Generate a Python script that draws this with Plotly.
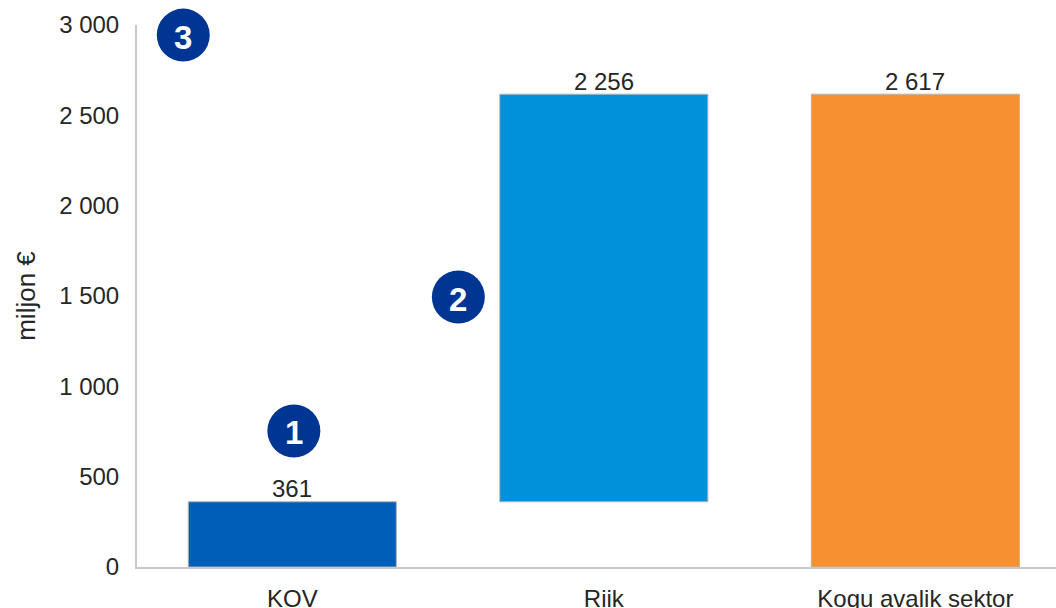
import plotly.graph_objects as go

categories = ["KOV", "Riik", "Kogu avalik sektor"]
category_pos = [0, 1, 2]
bar_values = [361, 2256, 2617]
bar_bases = [0, 361, 0]
bar_labels = ["361", "2 256", "2 617"]
bar_colors = ["#005EB8", "#0091DA", "#F79030"]
y_ticks = [0, 500, 1000, 1500, 2000, 2500, 3000]
y_tick_labels = ["0", "500", "1 000", "1 500", "2 000", "2 500", "3 000"]
badge_x = [0.005, 0.533, -0.35]
badge_y = [753, 1494, 2944]
badge_text = ["1", "2", "3"]

FONT = "Liberation Sans"
fig = go.Figure()
fig.add_trace(go.Bar(
    x=category_pos, y=bar_values, base=bar_bases, width=0.668,
    marker=dict(color=bar_colors, line=dict(color="#B5B5B5", width=1)),
    hoverinfo="skip"))
fig.add_trace(go.Scatter(
    x=badge_x, y=badge_y, mode="markers", cliponaxis=False,
    marker=dict(size=53, color="#003594", line=dict(width=0)),
    hoverinfo="skip"))
for bx, by, bt in zip(badge_x, badge_y, badge_text):
    fig.add_annotation(x=bx, y=by, text=bt, showarrow=False, yshift=-2,
                       font=dict(family=FONT, size=33, color="white", weight="bold"))
for cx, val, base, lab in zip(category_pos, bar_values, bar_bases, bar_labels):
    fig.add_annotation(x=cx, y=val + base, text=lab, showarrow=False, yanchor="middle",
                       yshift=13, font=dict(family=FONT, size=24, color="#262626"))
fig.update_layout(
    width=1056, height=608, showlegend=False,
    margin=dict(l=137, r=0, t=25, b=41),
    paper_bgcolor="white", plot_bgcolor="white",
    font=dict(family=FONT, size=24, color="#262626"),
    xaxis=dict(range=[-0.4985, 2.4515], tickvals=category_pos, ticktext=categories,
               showgrid=False, zeroline=False, showline=True, linecolor="#C8C8C8",
               linewidth=2, ticks="", tickfont=dict(size=24), ticklabelstandoff=9,
               automargin=False),
    yaxis=dict(range=[0, 3000], tickvals=y_ticks, ticktext=y_tick_labels,
               showgrid=False, zeroline=False, showline=True, linecolor="#C8C8C8",
               linewidth=2, ticks="", tickfont=dict(size=24), ticklabelstandoff=11,
               automargin=False,
               title=dict(text="miljon €", font=dict(size=26), standoff=16)),
)
fig.write_html("out.html", config=dict(displayModeBar=False),
               post_script="document.body.style.margin='0';document.body.style.overflow='hidden';")
